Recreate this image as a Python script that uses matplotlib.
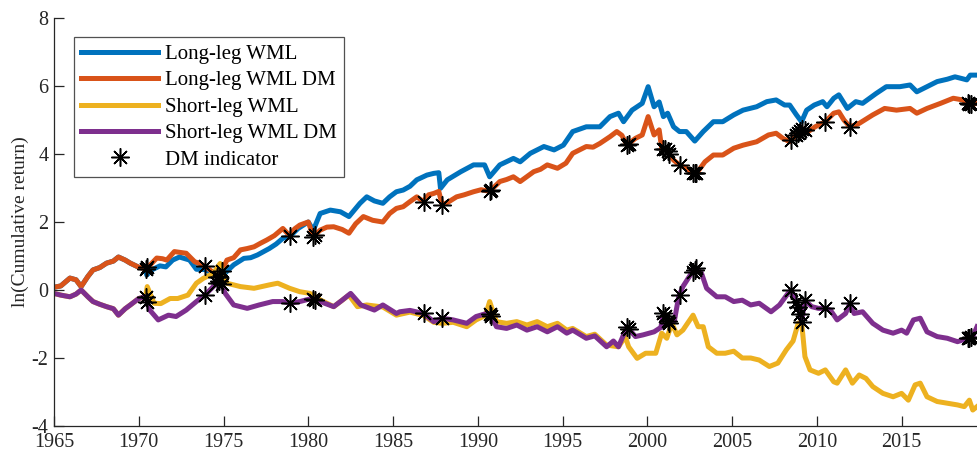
import numpy as np
import matplotlib.pyplot as plt

plt.rcParams['font.family'] = ['Liberation Serif', 'DejaVu Serif']
plt.rcParams['axes.unicode_minus'] = False

# ---- cumulative log returns (both legs identical until the first DM month) ----
early_years = [1965.0, 1965.4, 1965.94, 1966.3, 1966.6, 1967.0, 1967.3, 1967.7,
               1968.1, 1968.5, 1968.8, 1969.2, 1969.5, 1970.0, 1970.4]
early_long = [0.08, 0.12, 0.35, 0.30, 0.10, 0.40, 0.59, 0.66,
              0.79, 0.85, 0.97, 0.88, 0.79, 0.67, 0.62]
early_short = [-0.10, -0.15, -0.20, -0.12, 0.00, -0.20, -0.34, -0.42,
               -0.49, -0.55, -0.74, -0.55, -0.44, -0.25, -0.20]

long_wml_years = [1970.47, 1970.8, 1971.25, 1971.6, 1972.0, 1972.4, 1973.0, 1973.4,
                  1973.9, 1974.3, 1974.8, 1975.2, 1975.6, 1976.2, 1976.6, 1977.0,
                  1977.7, 1978.1, 1978.5, 1978.9, 1979.4, 1980.0, 1980.3, 1980.7,
                  1981.3, 1981.9, 1982.4, 1983.05, 1983.45, 1983.9, 1984.4, 1984.8,
                  1985.2, 1985.6, 1986.0, 1986.4, 1987.0, 1987.4, 1987.7, 1987.8,
                  1988.2, 1989.0, 1989.75, 1990.4, 1990.7, 1991.3, 1992.1, 1992.5,
                  1993.1, 1993.9, 1994.5, 1995.05, 1995.6, 1996.4, 1997.2, 1997.8,
                  1998.3, 1998.6, 1999.1, 1999.7, 2000.05, 2000.4, 2000.7, 2000.95,
                  2001.2, 2001.55, 2001.9, 2002.3, 2002.8, 2003.3, 2003.9, 2004.45,
                  2005.1, 2005.65, 2006.45, 2007.05, 2007.6, 2008.1, 2008.4, 2008.8,
                  2009.1, 2009.4, 2009.85, 2010.35, 2010.6, 2011.0, 2011.3, 2011.8,
                  2012.3, 2012.7, 2013.5, 2014.1, 2014.9, 2015.5, 2015.9, 2016.5,
                  2017.1, 2017.7, 2018.15, 2018.55, 2018.85, 2019.05, 2019.4]
long_wml = [0.44, 0.60, 0.71, 0.68, 0.88, 0.97, 0.88, 0.61,
            0.60, 0.50, 0.34, 0.55, 0.74, 0.93, 0.95, 1.03,
            1.22, 1.35, 1.52, 1.57, 1.81, 2.00, 1.76, 2.25,
            2.35, 2.30, 2.16, 2.55, 2.74, 2.62, 2.55, 2.74,
            2.89, 2.94, 3.05, 3.24, 3.38, 3.43, 3.45, 2.99,
            3.24, 3.48, 3.68, 3.68, 3.33, 3.68, 3.87, 3.77,
            4.02, 4.22, 4.12, 4.26, 4.66, 4.80, 4.80, 5.10,
            5.20, 4.95, 5.29, 5.49, 5.98, 5.39, 5.53, 5.10,
            5.20, 4.80, 4.66, 4.66, 4.38, 4.66, 4.95, 4.95,
            5.15, 5.29, 5.39, 5.54, 5.59, 5.44, 5.44, 5.15,
            4.95, 5.29, 5.44, 5.54, 5.39, 5.64, 5.74, 5.34,
            5.54, 5.49, 5.78, 5.98, 5.98, 6.03, 5.83, 5.98,
            6.13, 6.20, 6.27, 6.22, 6.18, 6.32, 6.32]

long_dm_years = [1970.7, 1971.06, 1971.4, 1971.65, 1972.1, 1972.5, 1972.8, 1973.3,
                 1973.6, 1973.9, 1974.3, 1974.7, 1975.2, 1975.6, 1976.0, 1976.4,
                 1976.8, 1977.2, 1977.55, 1978.0, 1978.5, 1978.9, 1979.2, 1979.5,
                 1980.0, 1980.3, 1980.7, 1981.1, 1981.5, 1982.0, 1982.4, 1982.8,
                 1983.25, 1983.8, 1984.4, 1984.8, 1985.2, 1985.6, 1986.0, 1986.4,
                 1986.8, 1987.1, 1987.4, 1987.7, 1987.9, 1988.3, 1988.75, 1989.2,
                 1989.75, 1990.2, 1990.7, 1991.3, 1991.7, 1992.1, 1992.5, 1993.3,
                 1993.7, 1994.1, 1994.7, 1995.2, 1995.6, 1996.0, 1996.4, 1996.8,
                 1997.2, 1997.8, 1998.2, 1998.5, 1998.8, 1999.3, 1999.7, 2000.05,
                 2000.4, 2000.7, 2000.85, 2001.15, 2001.55, 2001.9, 2002.3, 2002.7,
                 2002.9, 2003.4, 2003.9, 2004.45, 2005.1, 2005.65, 2006.45, 2007.15,
                 2007.6, 2008.0, 2008.4, 2008.7, 2009.1, 2009.5, 2009.9, 2010.5,
                 2011.0, 2011.3, 2011.6, 2011.95, 2012.5, 2013.3, 2014.0, 2014.7,
                 2015.5, 2015.9, 2016.5, 2017.3, 2018.05, 2018.6, 2018.9, 2019.2,
                 2019.4]
long_dm = [0.75, 0.94, 0.92, 0.88, 1.13, 1.10, 1.08, 0.83,
           0.78, 0.70, 0.55, 0.34, 0.88, 0.95, 1.18, 1.22,
           1.27, 1.38, 1.47, 1.60, 1.81, 1.60, 1.80, 1.91,
           2.00, 1.57, 1.76, 1.85, 1.86, 1.78, 1.67, 1.95,
           2.16, 2.05, 2.00, 2.25, 2.40, 2.45, 2.60, 2.74,
           2.60, 2.80, 2.84, 2.90, 2.50, 2.60, 2.74, 2.80,
           2.89, 2.95, 2.90, 3.19, 3.25, 3.33, 3.19, 3.48,
           3.55, 3.68, 3.58, 3.73, 4.02, 4.12, 4.22, 4.20,
           4.31, 4.51, 4.66, 4.55, 4.26, 4.46, 4.56, 5.10,
           4.56, 4.71, 4.17, 4.12, 3.82, 3.68, 3.58, 3.43,
           3.43, 3.77, 3.97, 3.97, 4.17, 4.26, 4.36, 4.56,
           4.61, 4.46, 4.36, 4.51, 4.75, 4.66, 4.80, 4.95,
           5.20, 5.24, 5.00, 4.80, 4.90, 5.15, 5.34, 5.29,
           5.34, 5.20, 5.34, 5.49, 5.64, 5.59, 5.49, 5.44,
           5.50]

short_wml_years = [1970.5, 1970.9, 1971.3, 1971.85, 1972.3, 1972.9, 1973.4, 1973.8,
                   1974.4, 1974.8, 1975.2, 1976.0, 1976.8, 1977.7, 1978.2, 1978.9,
                   1979.5, 1980.1, 1980.7, 1981.5, 1982.4, 1982.9, 1983.45, 1984.4,
                   1985.2, 1986.0, 1986.8, 1987.4, 1987.9, 1988.55, 1989.35, 1989.9,
                   1990.45, 1990.7, 1991.1, 1991.7, 1992.3, 1992.9, 1993.5, 1994.1,
                   1994.7, 1995.25, 1995.6, 1996.4, 1996.9, 1997.6, 1998.3, 1998.7,
                   1998.9, 1999.4, 1999.9, 2000.5, 2000.85, 2001.15, 2001.45, 2001.75,
                   2002.1, 2002.7, 2003.0, 2003.3, 2003.6, 2004.1, 2004.6, 2005.1,
                   2005.6, 2006.1, 2006.6, 2007.2, 2007.7, 2008.2, 2008.6, 2008.9,
                   2009.1, 2009.3, 2009.6, 2010.1, 2010.5, 2011.0, 2011.2, 2011.7,
                   2012.1, 2012.5, 2012.9, 2013.3, 2013.9, 2014.5, 2015.0, 2015.4,
                   2015.8, 2016.1, 2016.5, 2017.1, 2017.7, 2018.3, 2018.7, 2019.0,
                   2019.2, 2019.45]
short_wml = [0.10, -0.39, -0.40, -0.25, -0.25, -0.15, 0.20, 0.34,
             0.49, 0.78, 0.20, 0.10, 0.05, 0.15, 0.20, 0.05,
             -0.05, -0.10, -0.29, -0.49, -0.15, -0.49, -0.44, -0.50,
             -0.74, -0.65, -0.75, -0.95, -0.98, -0.95, -1.08, -0.88,
             -0.75, -0.34, -0.93, -0.98, -0.93, -1.03, -0.93, -1.08,
             -0.98, -1.18, -1.13, -1.37, -1.30, -1.62, -1.67, -1.37,
             -1.67, -2.01, -1.86, -1.86, -1.27, -1.42, -0.98, -1.32,
             -1.18, -0.74, -1.08, -1.08, -1.67, -1.86, -1.86, -1.80,
             -2.00, -2.00, -2.06, -2.25, -2.15, -1.76, -1.50, -0.98,
             -0.93, -1.96, -2.35, -2.45, -2.35, -2.70, -2.74, -2.35,
             -2.74, -2.50, -2.60, -2.84, -3.04, -3.14, -3.04, -3.24,
             -2.79, -2.74, -3.14, -3.28, -3.33, -3.38, -3.43, -3.24,
             -3.53, -3.43]

short_dm_years = [1970.65, 1971.15, 1971.75, 1972.2, 1972.8, 1973.4, 1973.9, 1974.5,
                  1974.8, 1975.1, 1975.6, 1976.4, 1977.1, 1977.9, 1978.5, 1978.9,
                  1979.5, 1980.2, 1980.7, 1981.5, 1982.0, 1982.5, 1983.1, 1983.9,
                  1984.4, 1985.2, 1985.4, 1986.0, 1986.8, 1987.4, 1987.9, 1988.55,
                  1989.35, 1989.9, 1990.45, 1990.75, 1991.1, 1991.7, 1992.3, 1992.9,
                  1993.5, 1994.1, 1994.7, 1995.25, 1995.6, 1996.4, 1996.9, 1997.6,
                  1998.0, 1998.3, 1998.8, 1999.3, 1999.75, 2000.4, 2000.8, 2000.95,
                  2001.3, 2001.6, 2001.85, 2002.1, 2002.6, 2002.9, 2003.2, 2003.5,
                  2004.1, 2004.6, 2005.1, 2005.6, 2006.1, 2006.6, 2007.3, 2007.8,
                  2008.3, 2008.5, 2008.9, 2009.1, 2009.3, 2009.7, 2010.1, 2010.5,
                  2010.8, 2011.2, 2011.7, 2011.95, 2012.2, 2012.7, 2013.3, 2013.9,
                  2014.5, 2015.0, 2015.3, 2015.7, 2016.1, 2016.5, 2017.1, 2017.7,
                  2018.3, 2018.9, 2019.2, 2019.45]
short_dm = [-0.59, -0.88, -0.74, -0.78, -0.59, -0.34, -0.15, 0.15,
            0.30, -0.10, -0.44, -0.54, -0.44, -0.34, -0.34, -0.39,
            -0.34, -0.25, -0.34, -0.49, -0.30, -0.10, -0.44, -0.59,
            -0.44, -0.69, -0.64, -0.60, -0.69, -0.93, -0.83, -0.88,
            -0.98, -0.78, -0.70, -0.70, -1.08, -1.13, -1.03, -1.18,
            -1.08, -1.23, -1.08, -1.27, -1.18, -1.42, -1.35, -1.67,
            -1.50, -1.67, -1.08, -1.37, -1.32, -1.23, -1.10, -0.69,
            -0.98, -0.90, -0.20, 0.10, 0.49, 0.64, 0.49, 0.05,
            -0.20, -0.20, -0.34, -0.30, -0.44, -0.39, -0.64, -0.44,
            -0.10, 0.00, -0.49, -0.93, -0.30, -0.49, -0.54, -0.54,
            -0.59, -0.88, -0.69, -0.39, -0.69, -0.64, -0.98, -1.18,
            -1.27, -1.18, -1.27, -0.88, -0.83, -1.23, -1.37, -1.42,
            -1.52, -1.42, -1.37, -1.08]

# months flagged by the DM indicator
dm_months = [1970.4, 1970.5, 1973.9, 1974.6, 1974.75, 1974.9, 1978.9, 1980.3,
             1980.4, 1986.8, 1987.9, 1990.7, 1990.8, 1998.8, 1998.9, 2000.95,
             2001.05, 2001.2, 2001.3, 2001.9, 2002.7, 2002.8, 2002.9, 2008.5,
             2008.8, 2008.9, 2009.0, 2009.1, 2009.3, 2010.5, 2011.95, 2018.9,
             2019.0, 2019.1]

# MATLAB default colour order
c_blue, c_orange, c_yellow, c_purple = '#0072BD', '#D95319', '#EDB120', '#7E2F8E'
ink = '#262626'

lw_x = np.array(early_years + long_wml_years)
lw_y = np.array(early_long + long_wml)
ld_x = np.array(early_years + long_dm_years)
ld_y = np.array(early_long + long_dm)
sw_x = np.array(early_years + short_wml_years)
sw_y = np.array(early_short + short_wml)
sd_x = np.array(early_years + short_dm_years)
sd_y = np.array(early_short + short_dm)

fig = plt.figure(figsize=(9.77, 4.5), dpi=100)
ax = fig.add_axes([54 / 977, 24 / 450, 923 / 977, 408 / 450])

lw = 3.6
ax.plot(lw_x, lw_y, color=c_blue, lw=lw, label='Long-leg WML')
ax.plot(ld_x, ld_y, color=c_orange, lw=lw, label='Long-leg WML DM')
ax.plot(sw_x, sw_y, color=c_yellow, lw=lw, label='Short-leg WML')
ax.plot(sd_x, sd_y, color=c_purple, lw=lw, label='Short-leg WML DM')

# stars sit on the DM-managed legs at the flagged months
dm = np.array(dm_months)
star = dict(marker=(8, 2, 0), linestyle='none', color='k', markersize=13,
            markeredgewidth=1.1)
ax.plot(dm, np.interp(dm, ld_x, ld_y), label='DM indicator', **star)
ax.plot(dm, np.interp(dm, sd_x, sd_y), **star)

ax.set_xlim(1965, 2019.45)
ax.set_ylim(-4, 8)
ax.set_xticks(np.arange(1965, 2016, 5))
ax.set_yticks(np.arange(-4, 9, 2))
ax.set_ylabel('ln(Cumulative return)', fontsize=14, color=ink, labelpad=2)

for side in ('top', 'right'):
    ax.spines[side].set_visible(False)
for side in ('left', 'bottom'):
    ax.spines[side].set_color(ink)
    ax.spines[side].set_linewidth(0.9)
ax.tick_params(direction='in', length=7, width=0.9, colors=ink, labelsize=14.5)
ax.tick_params(axis='x', pad=5)
ax.tick_params(axis='y', pad=4)

leg = ax.legend(loc='upper left', bbox_to_anchor=(20 / 923, 1 - 19 / 408),
                borderaxespad=0, fontsize=15, frameon=True, fancybox=False,
                edgecolor=ink, handlelength=3.7, handletextpad=0.3,
                labelspacing=0.33, borderpad=0.35)
leg.get_frame().set_linewidth(0.9)

fig.savefig('out.png', dpi=100)
